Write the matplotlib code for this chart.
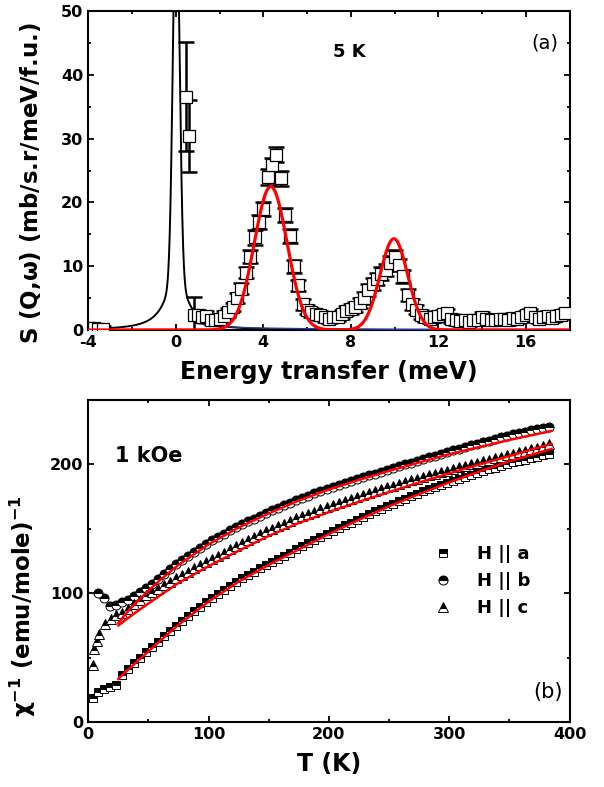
import numpy as np
import matplotlib
matplotlib.use('Agg')
import matplotlib.pyplot as plt
from matplotlib.ticker import MultipleLocator

plt.rcParams['font.family'] = 'DejaVu Sans'
plt.rcParams['font.weight'] = 'bold'
plt.rcParams['axes.labelweight'] = 'bold'
plt.rcParams['axes.unicode_minus'] = False
plt.rcParams['mathtext.fontset'] = 'dejavusans'
plt.rcParams['mathtext.default'] = 'regular'

# (a) inelastic neutron data at 5 K
energy = [-3.95, -3.75, -3.55, -3.35, 0.45, 0.62, 0.81,
          1.0, 1.2, 1.4, 1.6, 1.8, 2.0, 2.2, 2.4, 2.6, 2.8,
          3.0, 3.2, 3.4, 3.6, 3.8, 4.0, 4.2, 4.4, 4.6, 4.8,
          5.0, 5.2, 5.4, 5.6, 5.8, 6.0, 6.2, 6.4, 6.6, 6.8,
          7.0, 7.2, 7.4, 7.6, 7.8, 8.0, 8.2, 8.4, 8.6, 8.8,
          9.0, 9.2, 9.4, 9.6, 9.8, 10.0, 10.2, 10.4, 10.6, 10.8,
          11.0, 11.2, 11.4, 11.6, 11.8, 12.0, 12.2, 12.4, 12.6, 12.8,
          13.0, 13.2, 13.4, 13.6, 13.8, 14.0, 14.2, 14.4, 14.6, 14.8,
          15.0, 15.2, 15.4, 15.6, 15.8, 16.0, 16.2, 16.4, 16.6, 16.8,
          17.0, 17.2, 17.4, 17.6, 17.8]
s_qw = [0.3, 0.3, 0.2, 0.2, 36.6, 30.4, 2.4,
        2.3, 2.0, 2.2, 1.6, 1.5, 1.8, 2.2, 2.8, 3.6, 5.0,
        6.5, 9.0, 11.5, 14.5, 17.0, 19.0, 24.0, 25.8, 27.5, 23.8,
        18.0, 14.8, 10.0, 7.0, 4.0, 3.2, 2.8, 2.5, 2.3, 2.0,
        1.8, 2.0, 2.1, 2.5, 3.0, 3.3, 3.6, 4.2, 5.0, 6.3,
        7.2, 8.0, 8.8, 9.4, 10.5, 11.5, 10.2, 8.4, 5.5, 4.0,
        3.2, 2.4, 2.0, 1.8, 2.0, 2.2, 2.5, 2.6, 1.8, 1.5,
        1.4, 1.5, 1.3, 1.5, 1.6, 2.1, 1.8, 1.5, 1.6, 1.7,
        1.8, 1.5, 1.9, 1.8, 2.0, 2.3, 2.6, 2.1, 1.8, 2.0,
        2.2, 1.9, 2.2, 2.4, 2.6]
s_err = [0.4, 0.4, 0.4, 0.4, 8.5, 5.7, 2.8,
         0.8, 0.7, 0.7, 0.7, 0.7, 0.7, 0.7, 0.7, 0.7, 0.8,
         0.9, 0.9, 1.0, 1.1, 1.1, 1.1, 1.2, 1.2, 1.2, 1.2,
         1.1, 1.1, 1.0, 0.9, 0.8, 0.7, 0.7, 0.7, 0.7, 0.7,
         0.7, 0.7, 0.7, 0.7, 0.7, 0.8, 0.8, 0.8, 0.9, 0.9,
         0.9, 1.0, 1.0, 1.0, 1.1, 1.1, 1.0, 1.0, 0.9, 0.8,
         0.7, 0.7, 0.7, 0.7, 0.7, 0.7, 0.7, 0.7, 0.7, 0.7,
         0.7, 0.7, 0.7, 0.7, 0.7, 0.7, 0.7, 0.7, 0.7, 0.7,
         0.7, 0.7, 0.7, 0.7, 0.7, 0.7, 0.7, 0.7, 0.7, 0.7,
         0.7, 0.7, 0.7, 0.7, 0.7]

# fit parameters
elastic_pos, elastic_height, elastic_sigma = 0.02, 60.0, 0.15
tail_amp, tail_gamma = 8.3, 0.6
peak_pos = [4.34, 9.97]
peak_height = [22.5, 14.3]
peak_sigma = [0.75, 0.63]
bkg_e = [1.0, 2.0, 3.0, 4.0, 6.0, 10.0, 18.0]
bkg_s = [1.0, 0.6, 0.4, 0.3, 0.2, 0.1, 0.05]

# (b) inverse susceptibility, 1 kOe
temp_a = [4, 8, 13, 18, 23] + list(range(28, 388, 5))
chi_a = [19, 23, 26, 27, 29,
         36.5, 41, 45.5, 50, 54, 58.3, 62.4, 66.5, 70.7, 74.8,
         78.7, 82.3, 85.9, 89.5, 93.1, 96.4, 99.5, 102.6, 105.7, 108.8,
         111.6, 114.2, 116.8, 119.4, 122, 124.4, 126.8, 129.2, 131.6, 134,
         136.4, 138.8, 141.2, 143.6, 146, 148.3, 150.5, 152.7, 154.9, 157.1,
         159.3, 161.4, 163.5, 165.6, 167.7, 169.6, 171.5, 173.4, 175.3, 177.2,
         179, 180.8, 182.5, 184.2, 185.8, 187.3, 188.8, 190.3, 191.8, 193.3,
         194.8, 196.2, 197.6, 199, 200.3, 201.5, 202.7, 203.8, 204.9, 206, 207, 208]
temp_b = [8, 13, 18, 23] + list(range(28, 388, 5))
chi_b = [100, 96, 90, 91,
         93, 95, 98, 101, 104, 106.9, 110.9, 114.8, 118.7, 122.6,
         125.8, 129, 132.1, 135.3, 138.4, 141.3, 143.8, 146.3, 148.8, 151.3,
         153.6, 155.7, 157.8, 160, 162.1, 164.3, 166.3, 168.3, 170.3, 172.3,
         174.1, 175.8, 177.5, 179.2, 180.9, 182.5, 184, 185.5, 187, 188.5,
         190, 191.4, 192.9, 194.3, 195.8, 197.3, 198.7, 200.1, 201.4, 202.8,
         204, 205.4, 206.8, 208.2, 209.6, 211, 212.3, 213.6, 214.9, 216.2,
         217.2, 218.5, 219.7, 221, 222.2, 223.3, 224.4, 225.4, 226.4, 227.4, 228.4, 229.3]
temp_c = [4, 5, 7, 9, 14, 19, 23] + list(range(28, 388, 5))
chi_c = [44, 57, 63, 68, 76, 80, 83,
         85, 88, 91.5, 95, 98.5, 100.9, 103.6, 106.3, 109, 111.7,
         114.1, 116.6, 119.2, 121.8, 124.4, 126.8, 129.2, 131.6, 134, 136.4,
         138.8, 141.1, 143.4, 145.7, 148, 150.1, 152.1, 154.1, 156.1, 158.1,
         159.9, 161.6, 163.3, 165, 166.7, 168.4, 170, 171.6, 173.2, 174.8,
         176.3, 177.8, 179.3, 180.8, 182.3, 183.6, 185, 186.4, 187.7, 189,
         190.2, 191.4, 192.6, 193.8, 195, 196.6, 197.8, 199, 200.2, 201.4,
         202.6, 203.7, 204.8, 205.9, 207, 208.2, 209.4, 210.6, 211.8, 213, 214.2, 215.5]

fit_t = [25, 30, 35, 40, 50, 60, 75, 100, 125, 150, 175, 200, 225, 250, 275, 300, 325, 350, 385]
fit_a = [33.5, 38, 42.2, 46.5, 54.8, 63.3, 75.5, 93.5, 109, 122, 134, 146, 157, 167.5, 177, 186, 194.5, 202.5, 212]
fit_b = [77, 82.7, 88, 93, 102, 110.5, 122, 138, 151, 162, 172, 180.5, 188, 195, 201.5, 208, 213.5, 219, 226]
fit_c = [75, 78.6, 82, 85.5, 92, 98.5, 108, 121, 133, 144.5, 154.5, 163, 171, 178.5, 186, 193, 200, 206.5, 216]

fig = plt.figure(figsize=(6.04, 7.87), dpi=100)
ax1 = fig.add_axes([0.1462, 0.5807, 0.7967, 0.4053])
ax2 = fig.add_axes([0.1462, 0.0826, 0.7967, 0.4091])

for ax in (ax1, ax2):
    for sp in ax.spines.values():
        sp.set_linewidth(1.5)
    ax.tick_params(which='both', direction='in', top=True, right=True, width=1.3, labelsize=11.5)
    ax.tick_params(which='major', length=4.5)
    ax.tick_params(which='minor', length=2.5)

# --- panel (a)
x_fit = np.linspace(-4, 18, 3000)
elastic = (elastic_height * np.exp(-(x_fit - elastic_pos)**2 / (2 * elastic_sigma**2))
           + tail_amp * tail_gamma**2 / ((x_fit - elastic_pos)**2 + tail_gamma**2))
peaks = np.zeros_like(x_fit)
for p, h, s in zip(peak_pos, peak_height, peak_sigma):
    peaks += h * np.exp(-(x_fit - p)**2 / (2 * s**2))

ax1.errorbar(energy, s_qw, yerr=s_err, fmt='none', ecolor='black',
             elinewidth=1.8, capsize=6, capthick=1.8, zorder=2)
ax1.plot(energy, s_qw, 's', ms=8, mfc='white', mec='black', mew=0.9, zorder=3)
ax1.plot(x_fit, elastic, color='black', lw=1.4, zorder=2.5)
ax1.plot([2, 18], [0.03, 0.03], color='#2a7a2a', lw=1, zorder=2)
ax1.plot(bkg_e, bkg_s, color='#1f3f9f', lw=1, zorder=2.6)
ax1.plot(x_fit, peaks, color='red', lw=2.3, zorder=4)

ax1.set_xlim(-4, 18)
ax1.set_ylim(0, 50)
ax1.xaxis.set_major_locator(MultipleLocator(4))
ax1.xaxis.set_minor_locator(MultipleLocator(2))
ax1.yaxis.set_major_locator(MultipleLocator(10))
ax1.yaxis.set_minor_locator(MultipleLocator(5))
ax1.set_xlabel('Energy transfer (meV)', fontsize=17, labelpad=7)
ax1.set_ylabel(r'S (Q,$\omega$) (mb/s.r/meV/f.u.)', fontsize=16.5)
ax1.yaxis.set_label_coords(-0.094, 0.46)
ax1.text(7.2, 42.8, '5 K', fontsize=13, fontweight='bold')
ax1.text(0.976, 0.884, '(a)', transform=ax1.transAxes, ha='right', fontsize=14, fontweight='normal')

# --- panel (b)
ax2.plot(temp_a, chi_a, 's', ms=6, fillstyle='top', mfc='black', mfcalt='white',
         mec='black', mew=0.7, label='H || a', zorder=3)
ax2.plot(temp_b, chi_b, 'o', ms=6.5, fillstyle='top', mfc='black', mfcalt='white',
         mec='black', mew=0.7, label='H || b', zorder=3)
ax2.plot(temp_c, chi_c, '^', ms=7, fillstyle='top', mfc='black', mfcalt='white',
         mec='black', mew=0.7, label='H || c', zorder=3)
for fit in (fit_a, fit_b, fit_c):
    ax2.plot(fit_t, fit, color='red', lw=1.8, zorder=4)

ax2.set_xlim(0, 400)
ax2.set_ylim(0, 250)
ax2.xaxis.set_major_locator(MultipleLocator(100))
ax2.xaxis.set_minor_locator(MultipleLocator(50))
ax2.yaxis.set_major_locator(MultipleLocator(100))
ax2.yaxis.set_minor_locator(MultipleLocator(50))
ax2.set_xlabel('T (K)', fontsize=17, labelpad=7)
ax2.set_ylabel(r'$\chi^{-1}$ (emu/mole)$^{-1}$', fontsize=16.5)
ax2.yaxis.set_label_coords(-0.105, 0.36)
ax2.text(22, 202, '1 kOe', fontsize=15, fontweight='bold')
ax2.text(0.986, 0.075, '(b)', transform=ax2.transAxes, ha='right', fontsize=15, fontweight='normal')
ax2.legend(loc='upper left', bbox_to_anchor=(0.722, 0.55), frameon=False, fontsize=13,
           handlelength=0.8, handletextpad=1.5, labelspacing=0.5, borderpad=0, borderaxespad=0)

for ax in (ax1, ax2):
    for lab in ax.get_xticklabels() + ax.get_yticklabels():
        lab.set_fontweight('bold')

fig.savefig('out.png', dpi=100)
